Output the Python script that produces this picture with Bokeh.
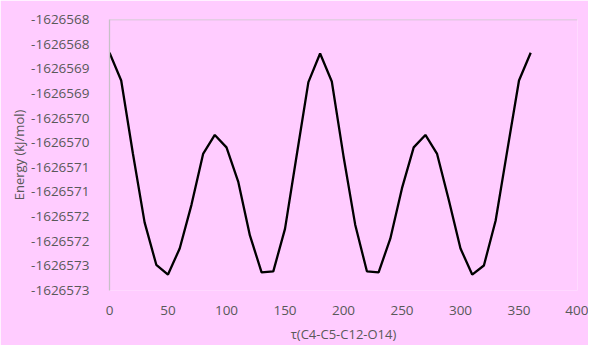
from bokeh.plotting import figure
from bokeh.models import FixedTicker, Span, Range1d
from bokeh.embed import file_html
from bokeh.resources import INLINE

angles = list(range(0, 361, 10))
energy = [
    -1626568.175, -1626568.739, -1626570.22, -1626571.618, -1626572.478,
    -1626572.677, -1626572.147, -1626571.267, -1626570.228, -1626569.843,
    -1626570.095, -1626570.79, -1626571.882, -1626572.631, -1626572.611,
    -1626571.749, -1626570.254, -1626568.771, -1626568.189, -1626568.759,
    -1626570.274, -1626571.664, -1626572.611, -1626572.631, -1626571.948,
    -1626570.923, -1626570.095, -1626569.843, -1626570.228, -1626571.162,
    -1626572.147, -1626572.677, -1626572.492, -1626571.585, -1626570.155,
    -1626568.739, -1626568.175,
]
y_ticks = [-1626573.0, -1626572.5, -1626572.0, -1626571.5, -1626571.0, -1626570.5,
           -1626570.0, -1626569.5, -1626569.0, -1626568.5, -1626568.0, -1626567.5]
y_labels = ["-1626573", "-1626573", "-1626572", "-1626572", "-1626571", "-1626571",
            "-1626570", "-1626570", "-1626569", "-1626569", "-1626568", "-1626568"]
x_ticks = [0, 50, 100, 150, 200, 250, 300, 350, 400]

BG = "#FFCCFF"
TXT = "#595959"
FONT = "Open Sans"

p = figure(width=588, height=345, output_backend="svg", toolbar_location=None,
           x_range=Range1d(0, 400), y_range=Range1d(y_ticks[0], y_ticks[-1]),
           min_border_left=109, min_border_right=11, min_border_top=19, min_border_bottom=49)
p.background_fill_color = BG
p.border_fill_color = BG
p.outline_line_color = None
p.grid.visible = False

p.line(angles, energy, line_color="black", line_width=2.3)

p.add_layout(Span(location=y_ticks[-1], dimension="width", line_color="#C8C0C8", line_width=1.3))

p.yaxis.ticker = FixedTicker(ticks=y_ticks)
p.yaxis.major_label_overrides = {t: l for t, l in zip(y_ticks, y_labels)}
p.xaxis.ticker = FixedTicker(ticks=x_ticks)

for ax in (p.xaxis, p.yaxis):
    ax.major_tick_line_color = None
    ax.minor_tick_line_color = None
    ax.major_label_text_font = FONT
    ax.major_label_text_font_size = "13.5px"
    ax.major_label_text_color = TXT
    ax.axis_label_text_font = FONT
    ax.axis_label_text_font_size = "13px"
    ax.axis_label_text_color = TXT
    ax.axis_label_text_font_style = "normal"

p.xaxis.axis_line_color = None
p.yaxis.axis_line_color = "#C8C0C8"
p.yaxis.axis_line_width = 1.3
p.yaxis.major_label_standoff = 14
p.xaxis.major_label_standoff = 9
p.yaxis.axis_label = "Energy (kJ/mol)"
p.xaxis.axis_label = "τ(C4-C5-C12-O14)"
p.yaxis.axis_label_standoff = 0
p.xaxis.axis_label_standoff = 7

open("out.html", "w").write(file_html(p, INLINE))
